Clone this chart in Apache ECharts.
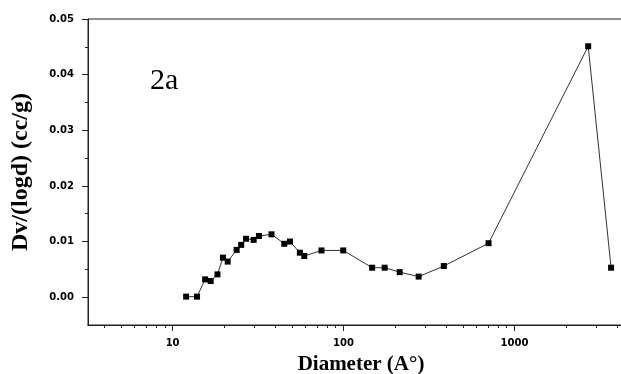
<!DOCTYPE html>
<html>
<head>
<meta charset="utf-8">
<script src="https://cdn.jsdelivr.net/npm/echarts@6/dist/echarts.min.js"></script>
<style>
html,body{margin:0;padding:0;background:#fff;}
#c{width:621px;height:374px;}
</style>
</head>
<body>
<div id="c"></div>
<script>
// Data
const diameter = [12.0, 13.9, 15.5, 16.7, 18.3, 19.7, 21.0, 23.7, 25.2, 26.9, 29.8, 32.0, 37.9, 45.0, 48.6, 55.5, 58.9, 74.3, 99.6, 147, 174, 213, 275, 386, 705, 2698, 3672];
const dv = [0.0001, 0.0001, 0.0032, 0.0029, 0.0041, 0.0071, 0.0064, 0.0085, 0.0094, 0.0105, 0.0103, 0.0110, 0.0113, 0.0096, 0.0100, 0.0080, 0.0074, 0.0084, 0.0084, 0.0053, 0.0053, 0.0045, 0.0037, 0.0056, 0.0097, 0.0451, 0.0053];
const xMajorTicks = [10, 100, 1000];
const xMinorTicks = [4, 5, 6, 7, 8, 9, 20, 30, 40, 50, 60, 70, 80, 90, 200, 300, 400, 500, 600, 700, 800, 900, 2000, 3000, 4000];
const yMajorTicks = [0, 0.01, 0.02, 0.03, 0.04, 0.05];
const yMinorTicks = [0.005, 0.015, 0.025, 0.035, 0.045];
const xTitle = 'Diameter (A°)';
const yTitle = 'Dv/(logd) (cc/g)';
const panelLabel = '2a';

const X_MIN = 3.2, X_MAX = 5000, Y_MIN = -0.005, Y_MAX = 0.05;
const axisColor = '#222';
const labelFont = {fontFamily: 'DejaVu Sans', fontWeight: 'bold', fontSize: 10, color: '#000'};

const chart = echarts.init(document.getElementById('c'), null, {renderer: 'canvas'});
chart.setOption({
  animation: false,
  backgroundColor: '#fff',
  grid: {
    left: 88, top: 19, width: 546, height: 306, containLabel: false, outerBoundsMode: 'none',
    show: true, borderColor: axisColor, borderWidth: 1, backgroundColor: 'transparent'
  },
  xAxis: [
    {
      type: 'log', logBase: 10, min: X_MIN, max: X_MAX, position: 'bottom',
      axisLine: {show: true, onZero: false, lineStyle: {color: axisColor, width: 1}},
      axisTick: {show: true, length: 6, inside: false, customValues: xMajorTicks, lineStyle: {color: axisColor}},
      axisLabel: Object.assign({show: true, margin: 13, customValues: xMajorTicks, formatter: v => String(Math.round(v))}, labelFont),
      splitLine: {show: false},
      name: xTitle, nameLocation: 'middle', nameGap: 29,
      nameTextStyle: {fontFamily: 'Liberation Serif', fontWeight: 'bold', fontSize: 21, color: '#000'}
    },
    {
      type: 'log', logBase: 10, min: X_MIN, max: X_MAX, position: 'bottom',
      axisLine: {show: true, onZero: false, lineStyle: {color: axisColor, width: 1}},
      axisTick: {show: true, length: 3, inside: false, customValues: xMinorTicks, lineStyle: {color: axisColor}},
      axisLabel: {show: false},
      splitLine: {show: false}
    }
  ],
  yAxis: [
    {
      type: 'value', min: Y_MIN, max: Y_MAX, position: 'left',
      axisLine: {show: true, onZero: false, lineStyle: {color: axisColor, width: 1}},
      axisTick: {show: true, length: 6, inside: false, customValues: yMajorTicks, lineStyle: {color: axisColor}},
      axisLabel: Object.assign({show: true, margin: 14, customValues: yMajorTicks, formatter: v => v.toFixed(2)}, labelFont),
      splitLine: {show: false},
      name: yTitle, nameLocation: 'middle', nameGap: 55, nameRotate: 90,
      nameTextStyle: {fontFamily: 'Liberation Serif', fontWeight: 'bold', fontSize: 24, color: '#000'}
    },
    {
      type: 'value', min: Y_MIN, max: Y_MAX, position: 'left',
      axisLine: {show: false, onZero: false},
      axisTick: {show: true, length: 3, inside: false, customValues: yMinorTicks, lineStyle: {color: axisColor}},
      axisLabel: {show: false},
      splitLine: {show: false}
    }
  ],
  series: [{
    type: 'line',
    xAxisIndex: 0, yAxisIndex: 0,
    data: diameter.map((d, i) => [d, dv[i]]),
    symbol: 'rect', symbolSize: 6, showAllSymbol: true,
    lineStyle: {color: '#333', width: 1},
    itemStyle: {color: '#000'},
    clip: false
  }],
  graphic: [{
    type: 'text', left: 150, top: 66,
    style: {text: panelLabel, fontFamily: 'Liberation Serif', fontSize: 30, fill: '#000'}
  }]
});
</script>
</body>
</html>
